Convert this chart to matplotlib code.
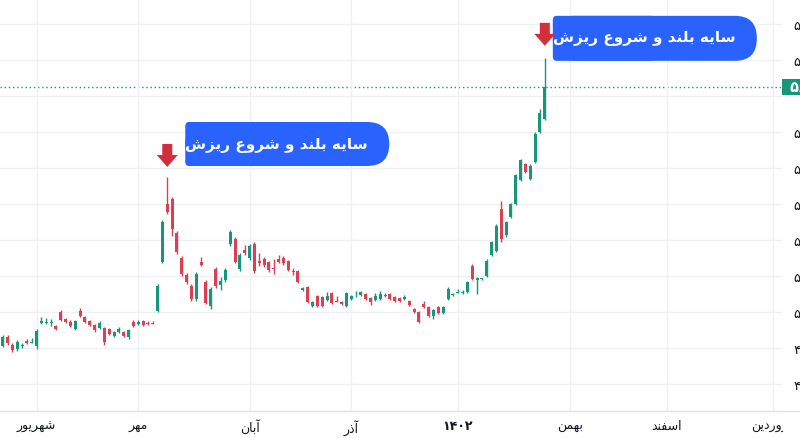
import matplotlib
matplotlib.use('Agg')
import matplotlib.pyplot as plt
from matplotlib.patches import FancyBboxPatch, Polygon, Rectangle
from matplotlib.lines import Line2D
from matplotlib.transforms import IdentityTransform
import numpy as np

# ---------------- data ----------------
opens = [4906, 4931, 4908, 4897, 4906, 4919, 4914, 4906, 4969, 4969,
         4969, 4961, 5000, 4981, 4972, 4953, 5003, 4986, 4975, 4964,
         4956, 4956, 4953, 4933, 4944, 4944, 4931, 4972, 4967, 4975,
         4969, 4969,
         5003, 5139, 5300, 5314, 5219, 5150, 5103, 5072, 5036, 5139,
         5083, 5017, 5119, 5075, 5089, 5189, 5203, 5119, 5172, 5150,
         5189, 5142, 5147, 5139, 5122, 5147, 5150, 5142,
         5114, 5114, 5061, 5069, 5017, 5044, 5042, 5033, 5053, 5031,
         5028, 5017, 5036, 5046, 5047, 5050, 5039, 5033, 5036, 5044,
         5050, 5042, 5039, 5036, 5031, 5008, 5000, 5022, 5014, 4989,
         5014, 4997, 5036,
         5047, 5053, 5053, 5056, 5128, 5089, 5092, 5100, 5158, 5169,
         5286, 5214, 5264, 5300, 5367, 5411, 5369, 5417, 5500, 5536]
highs = [4936, 4936, 4914, 4922, 4914, 4925, 4928, 4953, 4986, 4983,
         4981, 4964, 5006, 4983, 4978, 4978, 5011, 4989, 4978, 4967,
         4975, 4958, 4956, 4947, 4958, 4947, 4953, 4978, 4978, 4978,
         4975, 4975,
         5078, 5256, 5375, 5319, 5225, 5156, 5108, 5078, 5111, 5153,
         5089, 5069, 5125, 5097, 5122, 5228, 5208, 5164, 5186, 5189,
         5194, 5164, 5153, 5142, 5147, 5158, 5156, 5144,
         5122, 5117, 5069, 5072, 5031, 5047, 5044, 5056, 5056, 5044,
         5031, 5056, 5047, 5058, 5058, 5053, 5042, 5053, 5058, 5053,
         5053, 5044, 5042, 5047, 5033, 5011, 5003, 5031, 5017, 5008,
         5017, 5017, 5069,
         5053, 5064, 5061, 5086, 5133, 5097, 5094, 5147, 5197, 5244,
         5308, 5253, 5303, 5383, 5425, 5414, 5411, 5500, 5564, 5706]
lows = [4903, 4908, 4889, 4892, 4900, 4911, 4914, 4897, 4967, 4967,
        4961, 4950, 4975, 4969, 4958, 4950, 4986, 4969, 4961, 4944,
        4953, 4908, 4936, 4931, 4942, 4931, 4925, 4958, 4964, 4961,
        4964, 4967,
        5000, 5136, 5272, 5211, 5161, 5100, 5078, 5031, 5031, 5128,
        5022, 5008, 5067, 5061, 5083, 5183, 5136, 5114, 5158, 5144,
        5108, 5128, 5125, 5111, 5106, 5136, 5131, 5114,
        5103, 5081, 5058, 5025, 5014, 5014, 5014, 5031, 5022, 5028,
        5019, 5014, 5033, 5042, 5044, 5033, 5019, 5031, 5033, 5042,
        5033, 5028, 5028, 5033, 5017, 4997, 4969, 5011, 4986, 4981,
        4994, 4994, 5033,
        5044, 5053, 5050, 5053, 5089, 5050, 5089, 5097, 5156, 5167,
        5194, 5208, 5261, 5297, 5364, 5386, 5367, 5414, 5497, 5533]
closes = [4931, 4914, 4894, 4917, 4908, 4914, 4917, 4947, 4975, 4972,
          4972, 4953, 4978, 4972, 4961, 4975, 4989, 4972, 4964, 4950,
          4969, 4917, 4939, 4944, 4953, 4933, 4950, 4961, 4972, 4964,
          4967, 4967,
          5072, 5250, 5278, 5231, 5167, 5106, 5083, 5036, 5106, 5131,
          5025, 5064, 5072, 5086, 5117, 5222, 5139, 5158, 5164, 5183,
          5114, 5136, 5131, 5117, 5119, 5139, 5136, 5117,
          5111, 5083, 5067, 5028, 5028, 5017, 5017, 5044, 5025, 5028,
          5022, 5053, 5044, 5047, 5056, 5036, 5028, 5044, 5050, 5047,
          5036, 5031, 5031, 5042, 5019, 5000, 4972, 5014, 4989, 5006,
          4997, 5014, 5064,
          5050, 5056, 5056, 5083, 5092, 5094, 5093, 5142, 5194, 5239,
          5203, 5250, 5300, 5381, 5422, 5389, 5406, 5494, 5553, 5625]

price_ticks = [4800, 4900, 5000, 5100, 5200, 5300, 5400, 5500, 5600, 5700, 5800]
month_labels = ['شهریور', 'مهر', 'آبان', 'آذر', '۱۴۰۲', 'بهمن', 'اسفند', 'فروردین']
month_pos = [7, 28, 51, 72, 94, 117.2, 137.2, 159.2]
note_text = 'سایه بلند و شروع ریزش'
note_bars = [34, 112]

# ---------------- Persian shaping helper ----------------
FORMS = {
    'ا': (0xFE8D, 0xFE8E, None, None), 'آ': (0xFE81, 0xFE82, None, None),
    'ب': (0xFE8F, 0xFE90, 0xFE91, 0xFE92), 'د': (0xFEA9, 0xFEAA, None, None),
    'ذ': (0xFEAB, 0xFEAC, None, None), 'ر': (0xFEAD, 0xFEAE, None, None),
    'ز': (0xFEAF, 0xFEB0, None, None), 'س': (0xFEB1, 0xFEB2, 0xFEB3, 0xFEB4),
    'ش': (0xFEB5, 0xFEB6, 0xFEB7, 0xFEB8), 'ع': (0xFEC9, 0xFECA, 0xFECB, 0xFECC),
    'ف': (0xFED1, 0xFED2, 0xFED3, 0xFED4), 'ل': (0xFEDD, 0xFEDE, 0xFEDF, 0xFEE0),
    'م': (0xFEE1, 0xFEE2, 0xFEE3, 0xFEE4), 'ن': (0xFEE5, 0xFEE6, 0xFEE7, 0xFEE8),
    'ه': (0xFEE9, 0xFEEA, 0xFEEB, 0xFEEC), 'و': (0xFEED, 0xFEEE, None, None),
    'ی': (0xFEEF, 0xFEF0, 0xFEF3, 0xFEF4),
}


def dual(c):
    return c in FORMS and FORMS[c][2] is not None


def shape(s):
    if not any(c in FORMS for c in s):
        return s
    out = []
    for i, c in enumerate(s):
        if c not in FORMS:
            out.append(c)
            continue
        p = s[i - 1] if i > 0 else ''
        n = s[i + 1] if i + 1 < len(s) else ''
        jp = dual(p)
        jn = dual(c) and n in FORMS
        iso, fin, ini, med = FORMS[c]
        if jp and jn:
            code = med
        elif jp:
            code = fin
        elif jn:
            code = ini
        else:
            code = iso
        out.append(chr(code))
    return ''.join(reversed(out))


def fa_digits(v):
    return str(v).translate(str.maketrans('0123456789', '۰۱۲۳۴۵۶۷۸۹'))


plt.rcParams['font.family'] = ['DejaVu Sans']

UP, DOWN = '#16977c', '#dc3f52'

o = np.array(opens, float); h = np.array(highs, float)
l = np.array(lows, float); c = np.array(closes, float)
x = np.arange(len(o))
cols = [UP if cc >= oo else DOWN for oo, cc in zip(o, c)]

fig = plt.figure(figsize=(8, 4.39), dpi=100)
ax = fig.add_axes([0, 27 / 439, 782 / 800, 412 / 439])
ax.set_xlim(-0.558, 161.0)
ax.set_ylim(4725, 5869.4)

ax.vlines(x, l, h, colors=cols, lw=1.0, zorder=2)
body_lo = np.minimum(o, c)
body_h = np.maximum(np.abs(c - o), 2.5)
ax.bar(x, body_h, bottom=body_lo, width=0.62, color=cols, linewidth=0, zorder=3)

# grid / axes
ax.set_yticks(price_ticks)
ax.set_yticklabels([fa_digits(v) for v in price_ticks])
ax.yaxis.tick_right()
ax.tick_params(axis='y', length=0, pad=8, labelsize=9.5, labelcolor='#131722')
ax.set_xticks(month_pos)
ax.set_xticklabels([shape(s) for s in month_labels])
ax.tick_params(axis='x', length=0, pad=6, labelsize=9, labelcolor='#131722')
ax.get_xticklabels()[4].set_fontweight('bold')
ax.grid(True, color='#eef0f4', lw=1, zorder=0)
for s in ['top', 'left', 'right']:
    ax.spines[s].set_visible(False)
ax.spines['bottom'].set_color('#e0e3eb')

# hide the price tick label that sits under the last-price tag
for v, lab in zip(price_ticks, ax.get_yticklabels()):
    if abs(v - c[-1]) < 40:
        lab.set_visible(False)

# price-scale panel covers the time labels on the right
fig.add_artist(Rectangle((783, 0), 20, 26, transform=IdentityTransform(),
                         facecolor='white', edgecolor='none', zorder=5))
fig.add_artist(Line2D([0, 1], [27 / 439, 27 / 439], color='#e0e3eb', lw=1,
                      transform=fig.transFigure, zorder=6))

# last price line + label
ax.axhline(c[-1], color=UP, lw=1, ls=(0, (1, 2)), zorder=1)
fig.canvas.draw()
_, yl = ax.transData.transform((0, c[-1]))
fig.add_artist(Rectangle((782, yl - 8), 30, 16, transform=IdentityTransform(),
                         facecolor=UP, edgecolor='none'))
fig.text(790 / 800, yl / 439, fa_digits(int(c[-1])), color='white', fontsize=10.5,
         fontweight='bold', va='center', ha='left')

# annotations
BLUE = '#2962ff'
ARROW = '#d32f3a'
specs = [
    # gap, bubble dx, bubble bottom, bubble top, width, text dy
    (10, 18, 1, 45, 204, 22),
    (12, 8, -15, 30, 204, 8),
]
for i, (gap, bdx, bb, bt, bw, tdy) in zip(note_bars, specs):
    tx, ty = ax.transData.transform((i, h[i]))
    ty = ty + gap
    x0 = tx + bdx
    fig.add_artist(FancyBboxPatch((x0, ty + bb), bw, bt - bb,
                                  boxstyle='round,pad=0,rounding_size=22',
                                  transform=IdentityTransform(),
                                  facecolor=BLUE, edgecolor='none'))
    fig.add_artist(FancyBboxPatch((x0, ty + bb), bw / 2, bt - bb,
                                  boxstyle='round,pad=0,rounding_size=4',
                                  transform=IdentityTransform(),
                                  facecolor=BLUE, edgecolor='none'))
    pts = [(tx - 5, ty + 23), (tx + 5, ty + 23), (tx + 5, ty + 12), (tx + 10.5, ty + 12),
           (tx, ty), (tx - 10.5, ty + 12), (tx - 5, ty + 12)]
    fig.add_artist(Polygon(pts, closed=True, transform=IdentityTransform(),
                           facecolor=ARROW, edgecolor='none'))
    fig.text(x0 / 800, (ty + tdy) / 439, shape(note_text), color='white',
             fontsize=11, fontweight='bold', va='center', ha='left')

fig.savefig('out.png', dpi=100)
